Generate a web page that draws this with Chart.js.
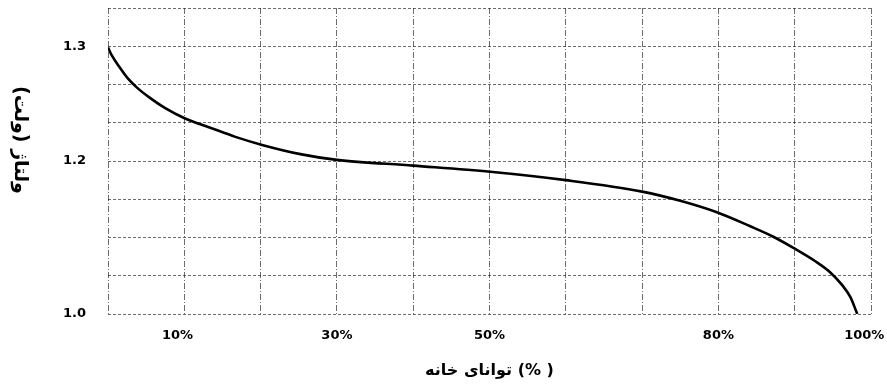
<!DOCTYPE html>
<html>
<head>
<meta charset="utf-8">
<script src="https://cdn.jsdelivr.net/npm/chart.js@4.4.1/dist/chart.umd.min.js"></script>
<style>
  html, body { margin: 0; padding: 0; background: #ffffff; }
  #wrap { width: 887px; height: 388px; position: relative; }
</style>
</head>
<body>
<div id="wrap"><canvas id="c" width="887" height="388"></canvas></div>
<script>
// ---- data ----
const capacityPercent = [0, 0.5, 1.6, 2.6, 3.8, 5.5, 7.5, 10.1, 13.4, 16.7, 20.2, 25.2, 30.0, 40.0, 50.1, 60.0, 70.0, 75.0, 79.8, 84.1, 87.2, 89.9, 92.7, 94.6, 96.2, 97.3, 98.2];
const voltage = [1.299, 1.292, 1.281, 1.272, 1.264, 1.255, 1.246, 1.237, 1.229, 1.221, 1.214, 1.206, 1.201, 1.194, 1.186, 1.175, 1.160, 1.148, 1.133, 1.115, 1.101, 1.086, 1.069, 1.055, 1.038, 1.022, 1.000];

// the original axis is drawn with uneven spacing: one grid row per value below
const yGridValues = [1.0, 1.05, 1.10, 1.15, 1.20, 1.2333, 1.2667, 1.30, 1.3333];
const yTickLabels = ['1.0', '', '', '', '1.2', '', '', '1.3', ''];
const xTickLabels = { 10: '10%', 30: '30%', 50: '50%', 80: '80%', 100: '100%' };

const xTitle = 'توانای خانه (% )';
const yTitle = 'ولتاژ (ولت)';

// map a voltage to its grid row position on the (uneven) original axis
function toRow(v) {
  for (let i = 0; i < yGridValues.length - 1; i++) {
    const a = yGridValues[i], b = yGridValues[i + 1];
    if (v <= b || i === yGridValues.length - 2) {
      return i + (v - a) / (b - a);
    }
  }
  return 0;
}

const points = capacityPercent.map((x, i) => ({ x: x, y: toRow(voltage[i]) }));

const gridCommon = {
  color: 'rgba(30,30,30,0.65)',
  lineWidth: 1,
  drawTicks: false
};

const yTitlePlugin = {
  id: 'yTitlePlugin',
  afterDraw(chart) {
    const ctx = chart.ctx;
    ctx.save();
    ctx.font = 'bold 19px "DejaVu Sans"';
    ctx.fillStyle = '#000';
    ctx.textAlign = 'center';
    ctx.textBaseline = 'middle';
    ctx.translate(20, 140);
    ctx.rotate(Math.PI / 2);
    ctx.fillText(yTitle, 0, 0);
    ctx.restore();
  }
};

// labels at the plot edges sit slightly left of their grid line in the original
const edgeNudge = { 10: '   ', 100: '   ' };

new Chart(document.getElementById('c'), {
  type: 'line',
  data: {
    datasets: [{
      data: points,
      borderColor: '#000',
      borderWidth: 2.6,
      pointRadius: 0,
      fill: false,
      cubicInterpolationMode: 'monotone'
    }]
  },
  options: {
    responsive: false,
    animation: false,
    devicePixelRatio: 1,
    layout: { padding: { top: 8, right: 16, left: 0, bottom: 0 } },
    plugins: { legend: { display: false }, tooltip: { enabled: false } },
    scales: {
      x: {
        type: 'linear',
        min: 0, max: 100,
        afterFit(scale) {
          scale.height = 74;
          scale.paddingLeft = 0;
          scale.paddingRight = 0;
        },
        ticks: {
          stepSize: 10,
          autoSkip: false,
          maxRotation: 0,
          padding: 14,
          color: '#000',
          font: { family: '"DejaVu Sans"', size: 13, weight: 'bold' },
          callback: (v) => xTickLabels[v] ? xTickLabels[v] + (edgeNudge[v] || '') : ''
        },
        grid: gridCommon,
        border: { display: false, dash: [6, 2, 1, 2] },
        title: {
          display: true,
          text: xTitle,
          color: '#000',
          font: { family: '"DejaVu Sans"', size: 16, weight: 'bold' },
          padding: { top: 0, bottom: 8 }
        }
      },
      y: {
        type: 'linear',
        min: 0, max: yGridValues.length - 1,
        afterFit(scale) {
          scale.width = 108;
          scale.paddingTop = 0;
          scale.paddingBottom = 0;
        },
        ticks: {
          stepSize: 1,
          autoSkip: false,
          padding: 22,
          color: '#000',
          font: { family: '"DejaVu Sans"', size: 13, weight: 'bold' },
          callback: (v) => yTickLabels[v] !== undefined ? yTickLabels[v] : ''
        },
        grid: gridCommon,
        border: { display: false, dash: [3, 2] }
      }
    }
  },
  plugins: [yTitlePlugin]
});
</script>
</body>
</html>
